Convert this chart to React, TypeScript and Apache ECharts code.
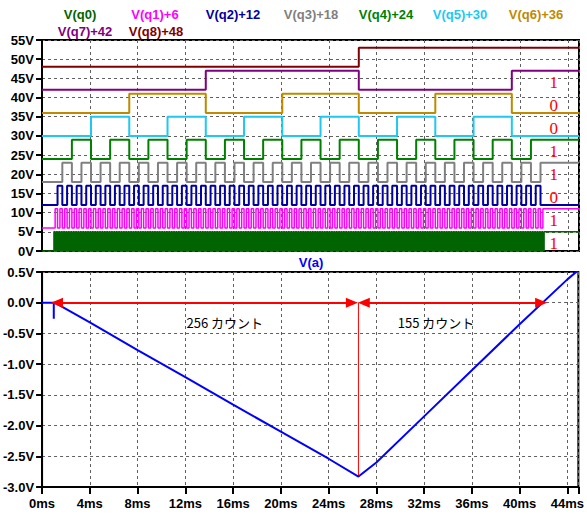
import { useEffect, useRef } from 'react';
import * as echarts from 'echarts';

// ---- data ----
const traceNames = ['V(q0)', 'V(q1)+6', 'V(q2)+12', 'V(q3)+18', 'V(q4)+24', 'V(q5)+30', 'V(q6)+36', 'V(q7)+42', 'V(q8)+48'];
const traceOffsets = [0, 6, 12, 18, 24, 30, 36, 42, 48];
const traceColors = ['#006400', '#ff00ff', '#0000a0', '#808080', '#008000', '#1ec8f0', '#bf8a00', '#800080', '#800000'];
const logicHigh = 5;
const countStartMs = 1.0;     // first clock edge
const clockPeriodMs = 0.1;    // one count per 0.1 ms
const countTotal = 411;       // 256 + 155 counts
const bitLabels = ['1', '1', '0', '1', '1', '0', '0', '1'];
const bitLabelTimeMs = 42.8;
const bitLabelRise = 2;

const vaTimes = [0, 0.98, 0.98, 0.98, 1.06, 4, 8, 12, 16, 20, 24, 26.5, 28, 32, 36, 40, 44, 44.92];
const vaValues = [0, 0, -0.26, 0, 0, -0.32, -0.77, -1.21, -1.66, -2.1, -2.54, -2.83, -2.6, -1.85, -1.1, -0.35, 0.38, 0.53];

const arrowStarts = [1.25, 26.95];
const arrowEnds = [25.95, 41.8];
const switchTimeMs = 26.5;
const switchMinVolts = -2.83;
const countTexts = ['256 カウント', '155 カウント'];
const countTextTimes = [15.3, 33.0];
const countTextVolts = [-0.33, -0.33];

const timeMaxMs = 44.92;
const timeStepMs = 4;

// ---- build counter bit waveforms ----
function bitWave(k: number): number[][] {
  const off = traceOffsets[k];
  const pts: number[][] = [[0, off]];
  let prev = 0;
  for (let n = 1; n <= countTotal; n++) {
    const b = (n >> k) & 1;
    if (b !== prev) {
      const t = countStartMs + (n - 1) * clockPeriodMs;
      pts.push([t, off + logicHigh * prev]);
      pts.push([t, off + logicHigh * b]);
      prev = b;
    }
  }
  pts.push([timeMaxMs, off + logicHigh * prev]);
  return pts;
}

const FONT = '"Liberation Sans", Arial, sans-serif';
const gridLine = { show: true, lineStyle: { color: '#606060', width: 1, type: [3, 3] as any } };

export default function App() {
  const ref = useRef<HTMLDivElement>(null);
  useEffect(() => {
    if (!ref.current) return;
    const chart = echarts.init(ref.current, undefined, { renderer: 'svg' });

    const legendX = [80, 155, 233, 311, 386, 460, 536, 85, 156];
    const legendY = [14, 14, 14, 14, 14, 14, 14, 31, 31];

    const bitSeries = traceNames.map((name, k) => ({
      name,
      type: 'line',
      xAxisIndex: 0,
      yAxisIndex: 0,
      data: bitWave(k),
      showSymbol: false,
      symbol: 'none',
      silent: true,
      lineStyle: { color: traceColors[k], width: k <= 1 ? 1.5 : 2 },
    }));

    const textLabel = (color: string, size: number, family: string) => ({
      show: true, position: 'inside', color, fontSize: size, fontFamily: family, opacity: 1,
      textBorderWidth: 0, textBorderColor: 'transparent', textShadowBlur: 0,
      formatter: (p: any) => p.value[2],
    });

    const option: any = {
      animation: false,
      backgroundColor: '#ffffff',
      grid: [
        { left: 42, top: 40, width: 537, height: 211, show: true, borderColor: '#000', borderWidth: 2, backgroundColor: 'transparent' },
        { left: 42, top: 272, width: 537, height: 215, show: true, borderColor: '#000', borderWidth: 2, backgroundColor: 'transparent' },
      ],
      xAxis: [
        {
          type: 'value', gridIndex: 0, min: 0, max: timeMaxMs, interval: timeStepMs,
          axisLine: { show: false }, axisTick: { show: false }, axisLabel: { show: false },
          splitLine: gridLine,
        },
        {
          type: 'value', gridIndex: 1, min: 0, max: timeMaxMs, interval: timeStepMs,
          axisLine: { show: true, onZero: false, lineStyle: { color: '#000', width: 2 } },
          axisTick: { show: true, length: 7, lineStyle: { color: '#000', width: 2 } },
          axisLabel: {
            show: true, margin: 10, color: '#000', fontWeight: 'bold', fontSize: 13, fontFamily: FONT,
            formatter: (v: number) => (Math.abs(v % timeStepMs) < 1e-6 ? `${Math.round(v)}ms` : ''),
          },
          splitLine: gridLine,
        },
      ],
      yAxis: [
        {
          type: 'value', gridIndex: 0, min: 0, max: 55, interval: 5,
          axisLine: { show: true, lineStyle: { color: '#000', width: 2 } },
          axisTick: { show: true, length: 6, lineStyle: { color: '#000', width: 2 } },
          axisLabel: { margin: 8, color: '#000', fontWeight: 'bold', fontSize: 13, fontFamily: FONT, formatter: (v: number) => `${v}V` },
          splitLine: gridLine,
        },
        {
          type: 'value', gridIndex: 1, min: -3, max: 0.5, interval: 0.5,
          axisLine: { show: true, onZero: false, lineStyle: { color: '#000', width: 2 } },
          axisTick: { show: true, length: 6, lineStyle: { color: '#000', width: 2 } },
          axisLabel: {
            margin: 8, color: '#000', fontWeight: 'bold', fontSize: 13, fontFamily: FONT,
            formatter: (v: number) => `${(Math.abs(v) < 1e-9 ? 0 : v).toFixed(1)}V`,
          },
          splitLine: gridLine,
        },
      ],
      graphic: [
        ...traceNames.map((name, k) => ({
          type: 'text', x: legendX[k], y: legendY[k], silent: true,
          style: { text: name, fill: traceColors[k], font: `bold 13px ${FONT}`, textAlign: 'center', textVerticalAlign: 'middle' },
        })),
        {
          type: 'text', x: 311, y: 262, silent: true,
          style: { text: 'V(a)', fill: '#0000ff', font: `bold 13px ${FONT}`, textAlign: 'center', textVerticalAlign: 'middle' },
        },
      ],
      series: [
        ...bitSeries,
        {
          name: 'bits',
          type: 'scatter', xAxisIndex: 0, yAxisIndex: 0, silent: true,
          symbolSize: 1, itemStyle: { color: 'rgba(0,0,0,0)', opacity: 1 },
          data: bitLabels.map((b, i) => [bitLabelTimeMs, traceOffsets[i] + bitLabelRise, b]),
          label: textLabel('#ff0000', 17, '"Liberation Serif", "Times New Roman", serif'),
        },
        {
          name: 'switch',
          type: 'line', xAxisIndex: 1, yAxisIndex: 1, silent: true, showSymbol: false, symbol: 'none',
          data: [[switchTimeMs, 0], [switchTimeMs, switchMinVolts]],
          lineStyle: { color: '#ff0000', width: 1 },
        },
        {
          name: 'V(a)',
          type: 'line', xAxisIndex: 1, yAxisIndex: 1, silent: true, showSymbol: false, symbol: 'none',
          data: vaTimes.map((t, i) => [t, vaValues[i]]),
          lineStyle: { color: '#0000ff', width: 2 },
          z: 3,
          markLine: {
            silent: true, animation: false,
            symbol: ['triangle', 'triangle'], symbolSize: [10, 12],
            lineStyle: { color: '#ff0000', width: 2, type: 'solid' },
            itemStyle: { color: '#ff0000' },
            label: { show: false },
            data: arrowStarts.map((s, i) => [{ coord: [s, 0] }, { coord: [arrowEnds[i], 0] }]),
          },
        },
        {
          name: 'counts',
          type: 'scatter', xAxisIndex: 1, yAxisIndex: 1, silent: true,
          symbolSize: 1, itemStyle: { color: 'rgba(0,0,0,0)', opacity: 1 },
          data: countTexts.map((s, i) => [countTextTimes[i], countTextVolts[i], s]),
          label: textLabel('#000000', 13, '"Noto Sans CJK JP", sans-serif'),
        },
      ],
    };
    chart.setOption(option);
    return () => chart.dispose();
  }, []);
  return <div ref={ref} style={{ position: 'absolute', left: 0, top: 0, width: 587, height: 514, background: '#fff' }} />;
}
